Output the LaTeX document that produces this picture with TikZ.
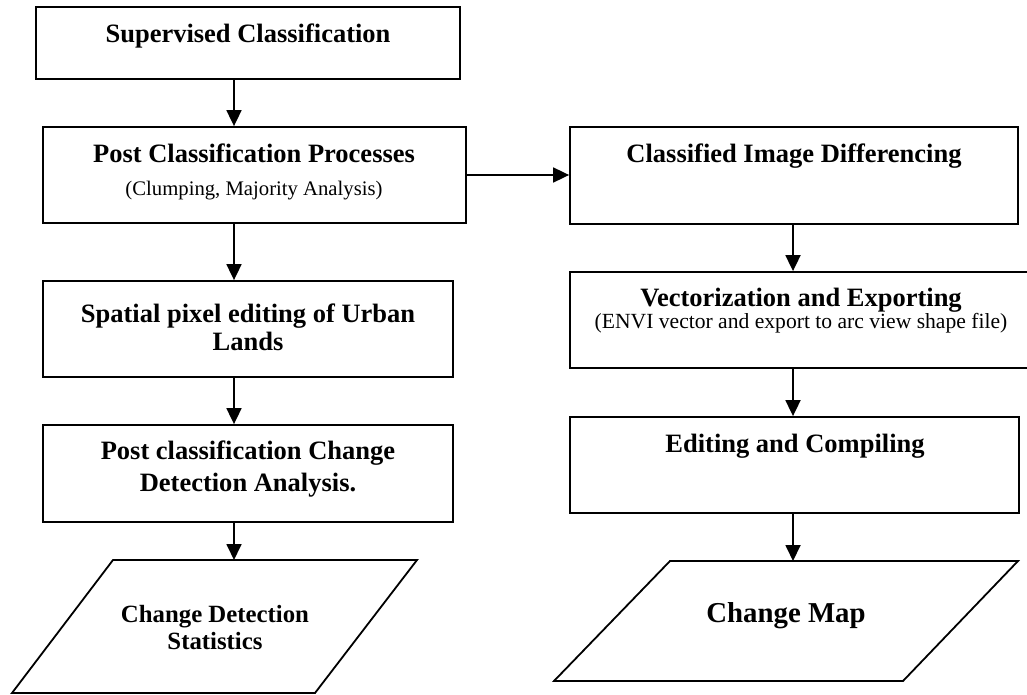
\documentclass[tikz,border=0pt]{standalone}
\usepackage{fontspec}
\setmainfont{Liberation Serif}
\usetikzlibrary{arrows.meta,fit}
\begin{document}
\begin{tikzpicture}[x=1pt,y=-1pt,
  box/.style={draw=black,line width=1.8pt,inner sep=0pt,fill=none},
  ln/.style={draw=black,line width=1.8pt,line join=miter},
  arr/.style={draw=black,line width=1.8pt,-{Triangle[length=16pt,width=15pt]}},
  ttl/.style={font=\fontsize{26.5}{28}\selectfont\bfseries,anchor=base,inner sep=0pt},
  sub/.style={font=\fontsize{20.7}{23}\selectfont,anchor=base,inner sep=0pt}]
\useasboundingbox (0,0) rectangle (1027,695);
\clip (0,0) rectangle (1027,695);
% left column boxes
\node[box,fit={(36,7) (460,79)}] (b1) {};
\node[box,fit={(43,127) (466,223)}] (b2) {};
\node[box,fit={(43,281) (453,377)}] (b3) {};
\node[box,fit={(43,425) (453,522)}] (b4) {};
% right column boxes
\node[box,fit={(570,127) (1018,224)}] (r1) {};
\node[box,fit={(570,272) (1034,368)}] (r2) {};
\node[box,fit={(570,417) (1019,513)}] (r3) {};
% parallelograms
\draw[ln] (113,560) -- (417,560) -- (315,693) -- (12,693) -- cycle;
\draw[ln] (670,561) -- (1018,561) -- (903,681) -- (554,681) -- cycle;
\coordinate (p1) at (235,560);
\coordinate (p2) at (792,561);
% texts
\node[ttl] (t1) at (248,43) {Supervised Classification};
\node[ttl] (t2) at (254,163) {Post Classification Processes};
\node[sub] (t2s) at (254,195) {(Clumping, Majority Analysis)};
\node[ttl] (t3a) at (248,322) {Spatial pixel editing of Urban};
\node[ttl] (t3b) at (248,350) {Lands};
\node[ttl] (t4a) at (248,459) {Post classification Change};
\node[ttl] (t4b) at (248,491) {Detection Analysis.};
\node[ttl,font=\fontsize{24.8}{27}\selectfont\bfseries] (t5a) at (215,622) {Change Detection};
\node[ttl,font=\fontsize{24.8}{27}\selectfont\bfseries] (t5b) at (215,649) {Statistics};
\node[ttl] (u1) at (794,163) {Classified Image Differencing};
\node[ttl] (u2) at (801,306) {Vectorization and Exporting};
\node[sub,font=\fontsize{21.6}{24}\selectfont] (u2s) at (801,328) {(ENVI vector and export to arc view shape file)};
\node[ttl] (u3) at (795,452) {Editing and Compiling};
\node[ttl,font=\fontsize{28.8}{31}\selectfont\bfseries] (u4) at (786,622) {Change Map};
% arrows
\coordinate (xl) at (234,0);
\coordinate (xr) at (793,0);
\draw[arr] (b1.south -| xl) -- (b2.north -| xl);
\draw[arr] (b2.south -| xl) -- (b3.north -| xl);
\draw[arr] (b3.south -| xl) -- (b4.north -| xl);
\draw[arr] (b4.south -| xl) -- (p1 -| xl);
\coordinate (yh) at (0,175);
\draw[arr] (b2.east |- yh) -- (r1.west |- yh);
\draw[arr] (r1.south -| xr) -- (r2.north -| xr);
\draw[arr] (r2.south -| xr) -- (r3.north -| xr);
\draw[arr] (r3.south -| xr) -- (p2 -| xr);
\end{tikzpicture}
\end{document}
